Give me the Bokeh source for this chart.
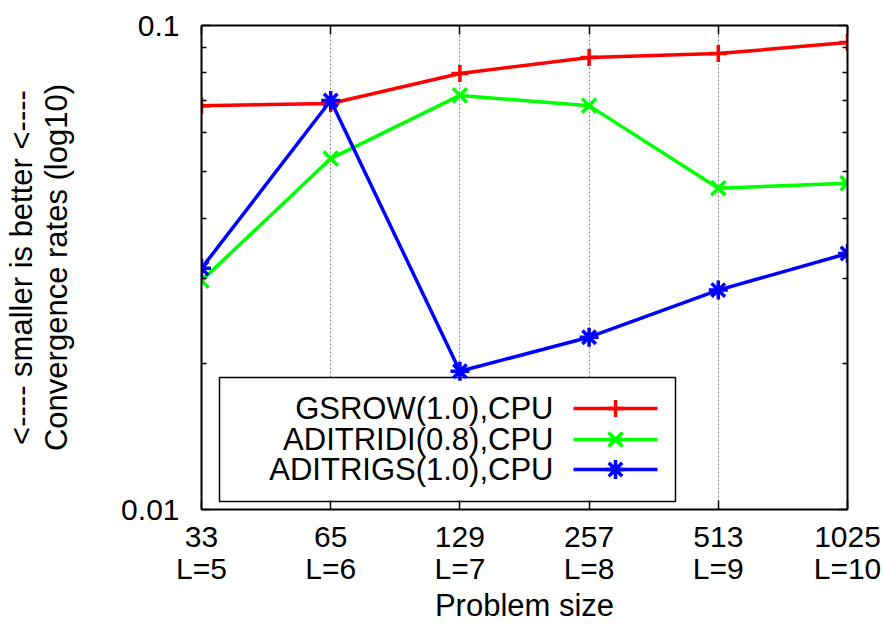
import math
from bokeh.plotting import figure
from bokeh.models import FixedTicker, LinearAxis, LogAxis, Range1d
from bokeh.core.properties import value
from bokeh.embed import file_html
from bokeh.resources import INLINE

# ---- data ----
sizes = ["33", "65", "129", "257", "513", "1025"]
levels = ["L=5", "L=6", "L=7", "L=8", "L=9", "L=10"]
gsrow = [0.0683, 0.0690, 0.0796, 0.0859, 0.0875, 0.0922]
aditridi = [0.0297, 0.0531, 0.0717, 0.0683, 0.0461, 0.0472]
aditrigs = [0.0315, 0.0700, 0.0193, 0.0227, 0.0284, 0.0338]
series_names = ["GSROW(1.0),CPU", "ADITRIDI(0.8),CPU", "ADITRIGS(1.0),CPU"]
y_ticks = [0.01, 0.1]
y_minor = [0.02, 0.03, 0.04, 0.05, 0.06, 0.07, 0.08, 0.09]

FONT = "Liberation Sans"
FS = "31px"
FS_TICK = "30px"

xs = list(range(len(sizes)))
FW, FH = 646, 484
YMIN, YMAX = 0.01, 0.1

p = figure(frame_width=FW, frame_height=FH,
           x_range=Range1d(0, len(sizes) - 1), y_range=Range1d(YMIN, YMAX),
           y_axis_type="log", output_backend="svg", toolbar_location=None,
           min_border_left=201, min_border_right=37, min_border_top=25,
           min_border_bottom=122)
p.outline_line_color = None
p.background_fill_color = "white"

# x axis
p.xaxis.ticker = FixedTicker(ticks=xs)
p.xaxis.major_label_overrides = {i: f"{s}\n{l}" for i, (s, l) in enumerate(zip(sizes, levels))}
p.xaxis.axis_label = "Problem size"
# y axis
p.yaxis.ticker = FixedTicker(ticks=y_ticks, minor_ticks=y_minor)
p.yaxis.major_label_overrides = {0.1: "0.1", 0.01: "0.01"}
p.yaxis.axis_label = "<---- smaller is better <----\nConvergence rates (log10)"

for ax in [p.xaxis[0], p.yaxis[0]]:
    ax.axis_line_width = 2
    ax.axis_line_color = "black"
    ax.major_tick_in = 9
    ax.major_tick_out = 0
    ax.minor_tick_in = 5
    ax.minor_tick_out = 0
    ax.major_tick_line_width = 1.5
    ax.minor_tick_line_width = 1.5
    ax.major_label_text_font = FONT
    ax.major_label_text_font_size = FS_TICK
    ax.major_label_text_color = "black"
    ax.axis_label_text_font = FONT
    ax.axis_label_text_font_size = FS
    ax.axis_label_text_font_style = "normal"
    ax.axis_label_text_color = "black"

p.yaxis.major_label_standoff = 22
p.yaxis.axis_label_standoff = 44
p.yaxis[0].axis_label_text_line_height = 1.0
p.xaxis.major_label_standoff = 10
p.xaxis[0].major_label_text_line_height = 0.97
p.xaxis.axis_label_standoff = 0

top = LinearAxis(ticker=FixedTicker(ticks=xs), major_label_text_font_size="1px",
                 major_label_text_alpha=0,
                 major_tick_in=9, major_tick_out=0, axis_line_width=2,
                 major_tick_line_width=1.5, major_label_standoff=0)
p.add_layout(top, "above")
right = LogAxis(ticker=FixedTicker(ticks=y_ticks, minor_ticks=y_minor),
                major_label_text_font_size="1px", major_label_text_alpha=0,
                major_tick_in=9, major_tick_out=0,
                minor_tick_in=5, minor_tick_out=0, axis_line_width=2,
                major_tick_line_width=1.5, minor_tick_line_width=1.5,
                major_label_standoff=0)
p.add_layout(right, "right")

# grid
p.ygrid.visible = False
p.xgrid.ticker = FixedTicker(ticks=xs[1:-1])
p.xgrid.grid_line_color = "#808080"
p.xgrid.grid_line_dash = "2 2"
p.xgrid.grid_line_width = 1

# legend layout helpers (pixel positions inside the frame)
def px_x(px):
    return px / FW * (len(sizes) - 1)

def px_y(px):
    return 10 ** (math.log10(YMAX) - px / FH * (math.log10(YMAX) - math.log10(YMIN)))

p.quad(left=[px_x(18)], right=[px_x(474)], top=[px_y(352)], bottom=[px_y(476)],
       fill_color="white", line_color="black", line_width=1.5)

colors = ["#ff0000", "#00ff00", "#0000ff"]
markers = ["cross", "x", "asterisk"]
msizes = [17, 20, 19]
series = [gsrow, aditridi, aditrigs]
leg_rows = [383, 414, 444]

for name, ys, c, m, ms, ry in zip(series_names, series, colors, markers, msizes, leg_rows):
    yy = px_y(ry)
    p.text(x=[px_x(352)], y=[yy], text=[name], text_align="right", text_baseline="middle",
           text_font=value(FONT), text_font_size=FS, text_color="black")
    p.segment(x0=[px_x(372)], x1=[px_x(456)], y0=[yy], y1=[yy], line_color=c, line_width=3.5)
    p.scatter(x=[px_x(414)], y=[yy], marker=m, size=ms, line_color=c, line_width=3.5)

for ys, c, m, ms in zip(series, colors, markers, msizes):
    p.line(xs, ys, line_color=c, line_width=3.5)
    p.scatter(xs, ys, marker=m, size=ms, line_color=c, line_width=3.5)

open("out.html", "w").write(file_html(p, INLINE))
